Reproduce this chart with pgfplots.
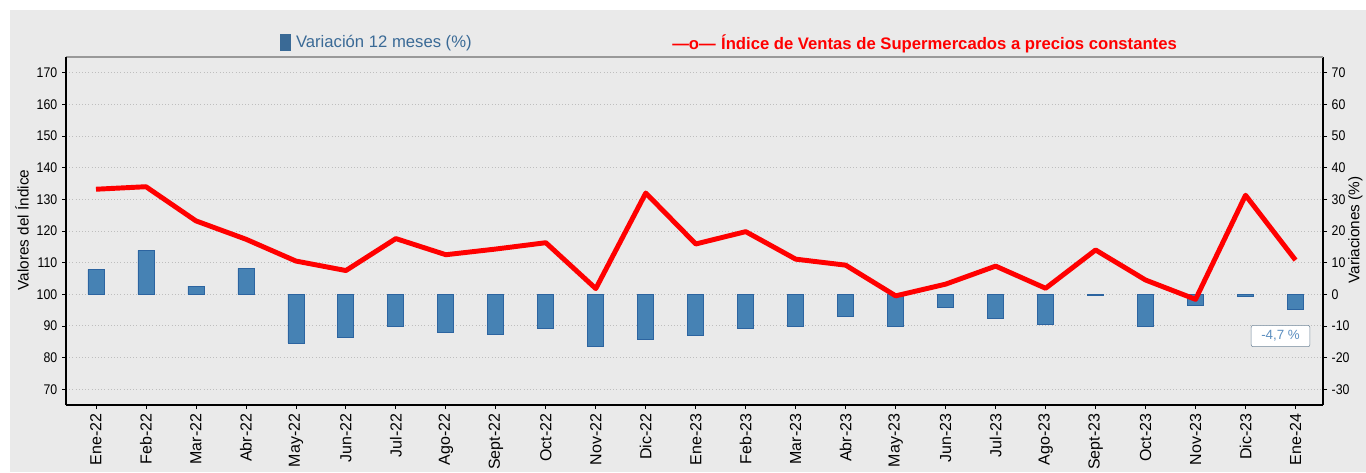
\documentclass[border=0pt]{standalone}
\usepackage{pgfplots}
\usepackage{pgfplotstable}
\pgfplotsset{compat=1.18}
\usepackage{fontspec}
\setmainfont{Liberation Sans}
\newfontfamily\narrow[FakeStretch=0.88]{Liberation Sans}

\definecolor{bg}{HTML}{EAEAEA}
\definecolor{barfill}{HTML}{4682B4}
\definecolor{barline}{HTML}{2C64A0}
\definecolor{legblue}{HTML}{3A6A96}
\definecolor{gridc}{HTML}{BEBEBE}
\definecolor{tipblue}{HTML}{5C8FC0}

% idx: month index, indice: sales index, var: 12-month change (%)
\pgfplotstableread{
idx indice var
0  133.2  7.9
1  134.0  13.9
2  123.2  2.6
3  117.4  8.2
4  110.5  -15.4
5  107.5  -13.6
6  117.6  -10.0
7  112.5  -12.0
8  114.3  -12.7
9  116.3  -10.7
10 101.8  -16.5
11 132.0  -14.4
12 115.9  -13.1
13 119.8  -10.8
14 111.1  -10.0
15 109.2  -7.1
16 99.5   -10.0
17 103.2  -4.1
18 108.9  -7.7
19 101.9  -9.5
20 114.0  -0.4
21 104.5  -10.2
22 98.4   -3.5
23 131.3  -0.7
24 110.8  -4.7
}\datos

\pgfplotsset{
  common/.style={
    scale only axis, width=942.75pt, height=261pt,
    at={(49.5pt,50.25pt)}, anchor=south west,
    xmin=-0.6, xmax=24.55,
    tick align=outside, major tick length=3pt,
    tick style={black, line width=0.6pt},
    axis line style={black, line width=0.9pt},
    /pgf/number format/assume math mode=true,
    yticklabel style={font=\narrow\fontsize{10.5}{11}\selectfont},
  }
}

\begin{document}
\begin{tikzpicture}
\useasboundingbox (0,0) rectangle (1024.5pt,354pt);
\clip (0,0) rectangle (1024.5pt,354pt);
\fill[white] (0,0) rectangle (1024.5pt,354pt);
\fill[bg] (7.5pt,0) rectangle (1024.5pt,346.5pt);

% bars: 12-month change, right axis
\begin{axis}[common,
  ymin=-35, ymax=75, ytick={-30,-20,...,70},
  axis y line*=right, axis x line*=bottom,
  ymajorgrids, grid style={gridc, dotted, line width=0.7pt},
  xtick={0,...,24},
  xticklabels={Ene-22,Feb-22,Mar-22,Abr-22,May-22,Jun-22,Jul-22,Ago-22,Sept-22,Oct-22,Nov-22,Dic-22,Ene-23,Feb-23,Mar-23,Abr-23,May-23,Jun-23,Jul-23,Ago-23,Sept-23,Oct-23,Nov-23,Dic-23,Ene-24},
  xticklabel style={rotate=90, anchor=east, font=\fontsize{12}{12}\selectfont},
]
\addplot[ybar, bar width=12pt, fill=barfill, draw=barline, line width=0.6pt] table[x=idx, y=var] {\datos};
\end{axis}

% line: index, left axis
\begin{axis}[common,
  ymin=65, ymax=175, ytick={70,80,...,170},
  axis y line*=left, axis x line*=top,
  xtick=\empty,
  x axis line style={draw=gray!80, line width=1.4pt},
]
\addplot[red, line width=3.7pt, line join=round, mark=none] table[x=idx, y=indice] {\datos};
\node[draw=gray!60!tipblue, fill=white, rounded corners=1.5pt, text=tipblue,
  minimum width=44pt, minimum height=16pt, font=\fontsize{10}{11}\selectfont]
  at (axis cs:23.7,86.8) {-4,7 \%};
\end{axis}

% axis titles
\node[rotate=90, font=\fontsize{11.5}{12}\selectfont] at (16.5pt,181.5pt) {Valores del Índice};
\node[rotate=90, font=\fontsize{11.5}{12}\selectfont] at (1016.5pt,181.5pt) {Variaciones (\%)};

% legend
\node[anchor=west, text=legblue, font=\fontsize{12.5}{13}\selectfont, inner sep=0pt]
  at (210pt,322pt) {{\color{legblue}\rule[-2.5pt]{8.3pt}{12.7pt}}\hspace{3.5pt}Variación 12 meses (\%)};
\node[anchor=west, text=red, font=\bfseries\fontsize{12.5}{13}\selectfont, inner sep=0pt]
  at (504pt,321pt) {—o—\hspace{4pt}Índice de Ventas de Supermercados a precios constantes};
\end{tikzpicture}
\end{document}
